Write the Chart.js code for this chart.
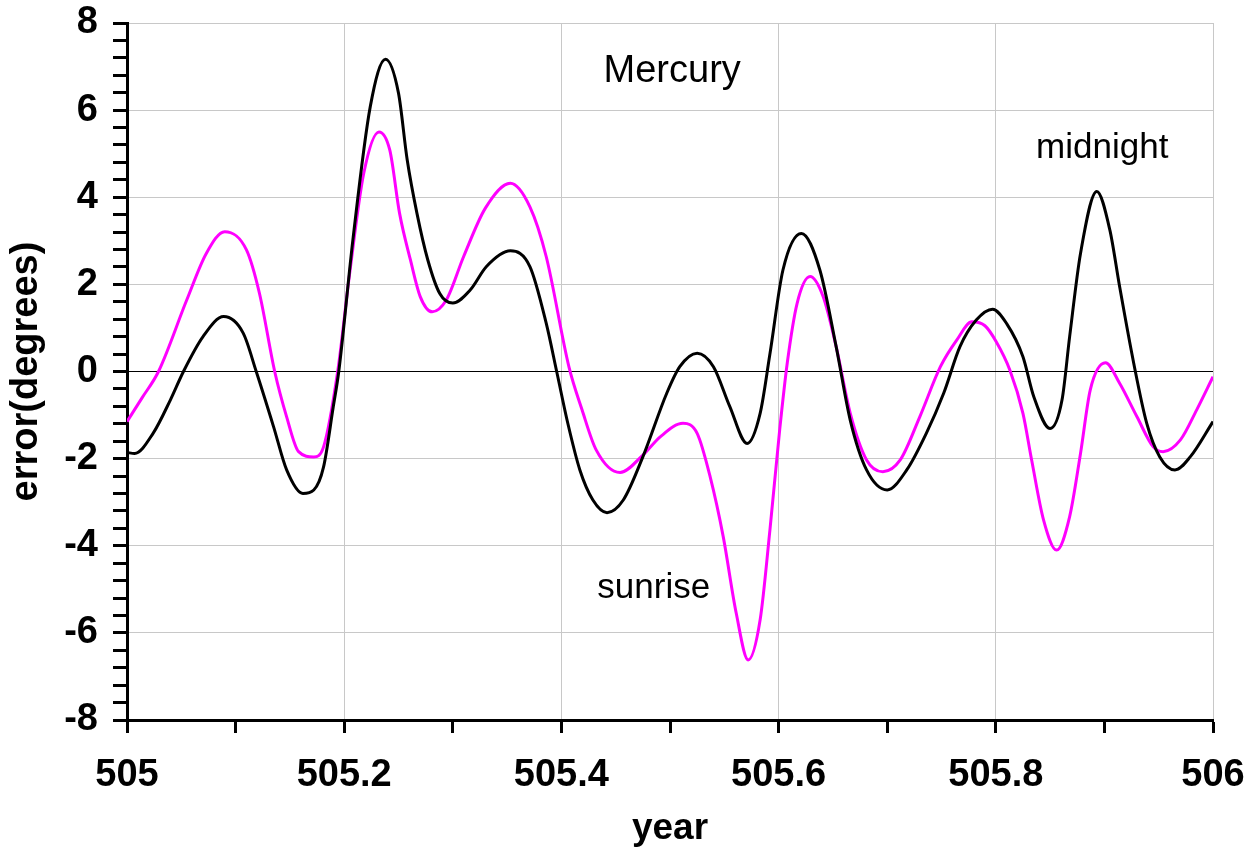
<!DOCTYPE html>
<html lang="en">
<head>
<meta charset="UTF-8">
<title>Mercury error</title>
<script src="https://cdn.jsdelivr.net/npm/chart.js"></script>
<style>
  html, body { margin: 0; padding: 0; background: #fff; }
  #wrap { width: 1257px; height: 851px; }
</style>
</head>
<body>
<div id="wrap"><canvas id="chart" width="1257" height="851"></canvas></div>
<script>
// values (year, error in degrees)
const sunriseYears = [
  505.000, 505.014, 505.029, 505.055, 505.073, 505.090, 505.110, 505.122, 505.136, 505.147,
  505.158, 505.172, 505.181, 505.194, 505.205, 505.218, 505.232, 505.242, 505.251, 505.261,
  505.270, 505.281, 505.294, 505.310, 505.330, 505.353, 505.371, 505.386, 505.407, 505.419,
  505.432, 505.454, 505.475, 505.491, 505.512, 505.525, 505.537, 505.549, 505.561, 505.572,
  505.583, 505.592, 505.601, 505.608, 505.617, 505.629, 505.641, 505.653, 505.666, 505.681,
  505.696, 505.712, 505.730, 505.749, 505.764, 505.778, 505.790, 505.800, 505.813, 505.825,
  505.833, 505.844, 505.856, 505.868, 505.878, 505.887, 505.901, 505.914, 505.930, 505.945,
  505.954, 505.970, 505.985, 506.000
];
const sunriseErr = [
  -1.15, -0.60, 0.00, 1.64, 2.71, 3.21, 2.79, 1.79, 0.00, -1.04,
  -1.84, -1.96, -1.73, 0.00, 2.25, 4.55, 5.50, 5.08, 3.63, 2.56,
  1.72, 1.37, 1.64, 2.64, 3.75, 4.32, 3.78, 2.64, 0.10, -0.88,
  -1.80, -2.32, -1.92, -1.50, -1.19, -1.42, -2.42, -3.79, -5.55, -6.62,
  -5.70, -3.64, -1.34, 0.20, 1.56, 2.18, 1.72, 0.57, -0.96, -2.03,
  -2.30, -2.03, -1.04, 0.11, 0.72, 1.14, 1.05, 0.70, 0.03, -0.96,
  -2.03, -3.41, -4.10, -3.33, -1.88, -0.42, 0.20, -0.27, -1.04, -1.73,
  -1.84, -1.57, -0.88, -0.12
];

const midnightYears = [
  505.000, 505.007, 505.024, 505.040, 505.052, 505.070, 505.089, 505.107, 505.119, 505.135,
  505.147, 505.162, 505.172, 505.181, 505.190, 505.195, 505.208, 505.224, 505.238, 505.250,
  505.258, 505.267, 505.277, 505.288, 505.300, 505.316, 505.331, 505.353, 505.371, 505.386,
  505.396, 505.406, 505.417, 505.429, 505.442, 505.457, 505.475, 505.497, 505.509, 505.525,
  505.540, 505.555, 505.571, 505.583, 505.592, 505.604, 505.621, 505.638, 505.653, 505.666,
  505.681, 505.700, 505.718, 505.736, 505.752, 505.767, 505.782, 505.797, 505.810, 505.825,
  505.835, 505.850, 505.861, 505.868, 505.878, 505.893, 505.905, 505.914, 505.927, 505.939,
  505.951, 505.965, 505.979, 506.000
];
const midnightErr = [
  -1.86, -1.88, -1.42, -0.65, 0.00, 0.80, 1.26, 0.88, 0.00, -1.27,
  -2.26, -2.80, -2.72, -2.19, -0.80, 0.00, 3.02, 6.08, 7.17, 6.39,
  4.86, 3.63, 2.56, 1.79, 1.57, 1.87, 2.41, 2.77, 2.41, 1.11,
  -0.04, -1.20, -2.26, -2.95, -3.24, -2.95, -1.96, -0.50, 0.11, 0.42,
  0.11, -0.80, -1.65, -0.96, 0.40, 2.33, 3.17, 2.33, 0.57, -1.12,
  -2.26, -2.72, -2.26, -1.42, -0.50, 0.57, 1.18, 1.43, 1.10, 0.34,
  -0.58, -1.31, -0.65, 0.80, 2.71, 4.13, 3.25, 1.95, 0.19, -1.19,
  -1.96, -2.26, -1.96, -1.15
];

// axis ticks: y every 0.4 (labelled every 2), x every 0.1 (labelled every 0.2)
const yTicks = [];
for (let i = 0; i <= 40; i++) yTicks.push(Math.round((-8 + i * 0.4) * 10) / 10);
const xTicks = [];
for (let i = 0; i <= 10; i++) xTicks.push(Math.round((505 + i * 0.1) * 10) / 10);

const notes = [
  { text: 'Mercury', x: 505.502, y: 6.65, size: 38 },
  { text: 'midnight', x: 505.898, y: 4.89, size: 35 },
  { text: 'sunrise', x: 505.485, y: -5.21, size: 35 }
];

const FONT = '"Liberation Sans", Arial, sans-serif';
const isMult = (v, step) => Math.abs(v / step - Math.round(v / step)) < 1e-6;

const toPoints = (xs, ys) => xs.map((x, i) => ({ x: x, y: ys[i] }));

const notesPlugin = {
  id: 'notes',
  afterDatasetsDraw(chart) {
    const c = chart.ctx;
    const xs = chart.scales.x, ys = chart.scales.y;
    c.save();
    c.fillStyle = '#000';
    c.textAlign = 'center';
    c.textBaseline = 'alphabetic';
    notes.forEach(n => {
      c.font = n.size + 'px ' + FONT;
      c.fillText(n.text, xs.getPixelForValue(n.x), ys.getPixelForValue(n.y));
    });
    c.restore();
  }
};

new Chart(document.getElementById('chart'), {
  type: 'line',
  data: {
    datasets: [
      {
        label: 'midnight',
        data: toPoints(midnightYears, midnightErr),
        borderColor: '#000000',
        borderWidth: 3,
        pointRadius: 0,
        cubicInterpolationMode: 'monotone',
        order: 0
      },
      {
        label: 'sunrise',
        data: toPoints(sunriseYears, sunriseErr),
        borderColor: '#ff00ff',
        borderWidth: 3,
        pointRadius: 0,
        cubicInterpolationMode: 'monotone',
        order: 1
      }
    ]
  },
  options: {
    responsive: false,
    animation: false,
    devicePixelRatio: 1,
    layout: { padding: { top: 23, right: 44, left: 0, bottom: 0 } },
    plugins: { legend: { display: false }, tooltip: { enabled: false } },
    scales: {
      x: {
        type: 'linear',
        min: 505,
        max: 506,
        afterBuildTicks: s => { s.ticks = xTicks.map(v => ({ value: v })); },
        afterFit: s => { s.height = 131; s.paddingLeft = 0; s.paddingRight = 0; },
        border: { display: true, color: '#000', width: 3 },
        grid: {
          color: ctx => (ctx.tick && isMult(ctx.tick.value, 0.2)) ? '#c8c8c8' : 'rgba(0,0,0,0)',
          lineWidth: 1,
          tickColor: '#000',
          tickWidth: 3,
          tickLength: 13
        },
        ticks: {
          autoSkip: false,
          maxRotation: 0,
          padding: 20,
          color: '#000',
          font: { family: FONT, size: 38, weight: 'bold' },
          callback: v => isMult(v, 0.2) ? String(Math.round(v * 10) / 10) : ''
        },
        title: {
          display: true,
          text: 'year',
          color: '#000',
          font: { family: FONT, size: 37, weight: 'bold' },
          padding: { top: 0, bottom: 0 }
        }
      },
      y: {
        min: -8,
        max: 8,
        afterBuildTicks: s => { s.ticks = yTicks.map(v => ({ value: v })); },
        afterFit: s => { s.width = 127; s.paddingTop = 0; s.paddingBottom = 0; },
        border: { display: true, color: '#000', width: 3 },
        grid: {
          color: ctx => {
            if (!ctx.tick) return 'rgba(0,0,0,0)';
            if (Math.abs(ctx.tick.value) < 1e-6) return '#000';
            return isMult(ctx.tick.value, 2) ? '#c8c8c8' : 'rgba(0,0,0,0)';
          },
          lineWidth: 1,
          tickColor: '#000',
          tickWidth: 3,
          tickLength: 14
        },
        ticks: {
          autoSkip: false,
          padding: 15,
          color: '#000',
          font: { family: FONT, size: 38, weight: 'bold' },
          callback: v => isMult(v, 2) ? String(Math.round(v)) : ''
        },
        title: {
          display: true,
          text: 'error(degrees)',
          color: '#000',
          font: { family: FONT, size: 38, weight: 'bold' },
          padding: { top: 4, bottom: 0 }
        }
      }
    }
  },
  plugins: [notesPlugin]
});
</script>
</body>
</html>
